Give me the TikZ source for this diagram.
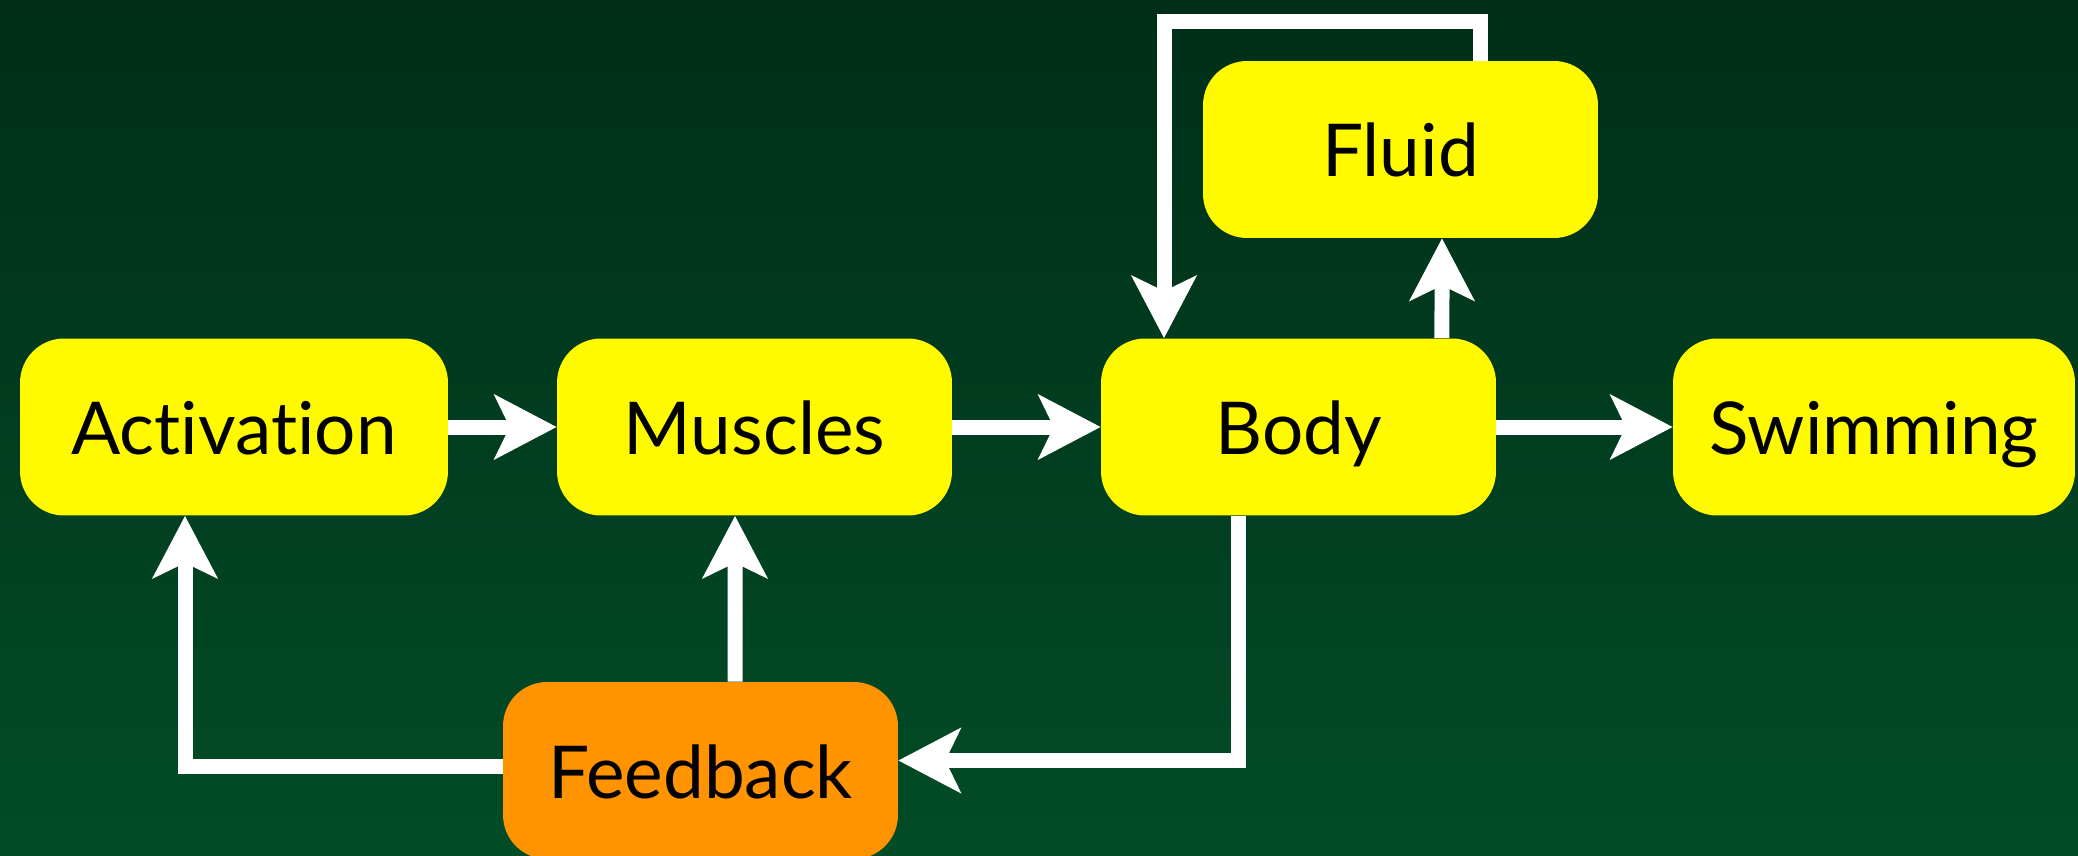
\documentclass[tikz,border=0pt]{standalone}
\usepackage{fontspec}
\setmainfont{Lato}[Ligatures={NoCommon,NoContextual}]
\usetikzlibrary{arrows.meta, positioning}
\definecolor{bgtop}{HTML}{002E19}
\definecolor{bgbot}{HTML}{024C27}
\definecolor{boxyellow}{HTML}{FFFA00}
\definecolor{boxorange}{HTML}{FF9300}

\begin{document}
\begin{tikzpicture}[x=0.02cm, y=-0.02cm,
  >={Stealth[length=1.24cm, width=1.28cm, inset=0.3cm]},
  box/.style={fill=boxyellow, rounded corners=0.88cm,
    minimum width=7.9cm, minimum height=3.54cm, inner sep=0pt,
    font=\fontsize{41.5}{48}\selectfont, text height=1.1cm, text depth=0pt},
  flow/.style={draw=white, line width=0.3cm, ->}]

% Background (pixel grid, y pointing down)
\shade[top color=bgtop, bottom color=bgbot] (0,0) rectangle (2078,855);
\useasboundingbox (0,0) rectangle (2078,855);

% Main chain
\node[box, minimum width=8.56cm] (act) at (234,427) {Activation};
\node[box] (mus) at (754.5,427) {Muscles};
\node[box] (body) at (1298.5,427) {Body};
\node[box, minimum width=8.04cm] (swim) at (1874,427) {Swimming};

% Side boxes
\node[box] (fluid) at (1400.5,149.5) {Fluid};
\node[box, fill=boxorange] (feed) at (700.5,770.5) {Feedback};

% Forward arrows
\draw[flow] (act) -- (mus);
\draw[flow] (mus) -- (body);
\draw[flow] (body) -- (swim);

% Body <-> Fluid
\draw[flow] ([xshift=2.87cm]body.north) -- ([xshift=0.83cm]fluid.south);
\draw[flow] ([xshift=1.6cm]fluid.north) -- ++(0,-39) -| ([xshift=-2.69cm]body.north);

% Feedback loop
\draw[flow] ([xshift=-1.21cm]body.south) |- ([yshift=0.2cm]feed.east);
\draw[flow] ([yshift=0.09cm]feed.west) -| ([xshift=-0.98cm]act.south);
\draw[flow] ([xshift=0.69cm]feed.north) -- ([xshift=-0.39cm]mus.south);

\end{tikzpicture}
\end{document}
